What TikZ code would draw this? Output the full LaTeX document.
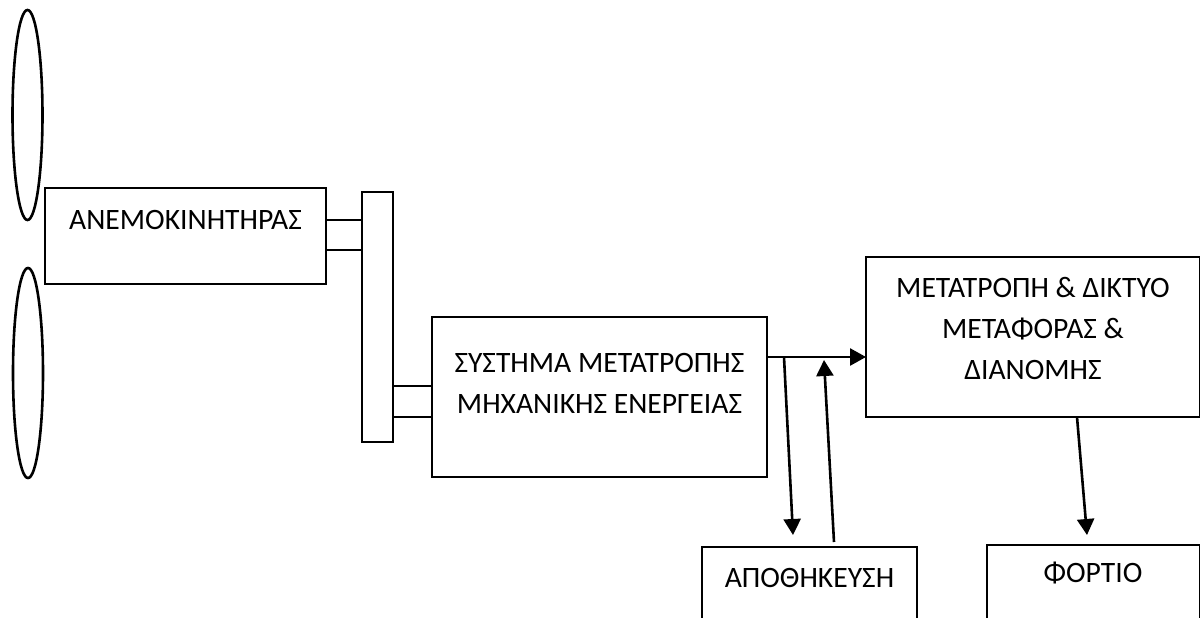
\documentclass[tikz,border=0pt]{standalone}
\usepackage{fontspec}
\setmainfont{Carlito}
\usetikzlibrary{arrows.meta,positioning,calc}

\begin{document}
\begin{tikzpicture}[x=0.5pt,y=-0.5pt,line width=1.3pt,>={Triangle[length=8pt,width=8.5pt]},
  box/.style={draw,line width=1.3pt,outer sep=0pt,inner sep=0pt},
  lbl/.style={align=center,font=\fontsize{14.8}{20.5}\selectfont}]
  \useasboundingbox (0,0) rectangle (1200,617);
  % blades
  \draw (27.5,115) ellipse (7.5pt and 52.5pt);
  \draw (28,373) ellipse (7.5pt and 52.5pt);
  % boxes
  \node[box,minimum width=140.5pt,minimum height=48pt] (an) at (185.5,236) {};
  \node[lbl] (antxt) at (185.5,220) {ΑΝΕΜΟΚΙΝΗΤΗΡΑΣ};
  \node[box,minimum width=15.5pt,minimum height=125pt] (bar) at (377.5,317) {};
  \node[box,minimum width=167.5pt,minimum height=80pt] (sys) at (599.5,397) {};
  \node[lbl] (systxt) at (599.5,383) {ΣΥΣΤΗΜΑ ΜΕΤΑΤΡΟΠΗΣ\\ΜΗΧΑΝΙΚΗΣ ΕΝΕΡΓΕΙΑΣ};
  \node[box,minimum width=167pt,minimum height=80pt] (net) at (1033,337) {};
  \node[lbl] (nettxt) at (1033,328) {ΜΕΤΑΤΡΟΠΗ \& ΔΙΚΤΥΟ\\ΜΕΤΑΦΟΡΑΣ \&\\ΔΙΑΝΟΜΗΣ};
  \node[box,minimum width=107.5pt,minimum height=46.5pt] (sto) at (809.5,593.5) {};
  \node[lbl] (stotxt) at (809.5,578) {ΑΠΟΘΗΚΕΥΣΗ};
  \node[box,minimum width=106.5pt,minimum height=47.5pt] (load) at (1093.5,592.5) {};
  \node[lbl] (loadtxt) at (1093,573) {ΦΟΡΤΙΟ};
  % shafts
  \draw (an.east |- 0,220) -- (bar.west |- 0,220);
  \draw (an.east |- 0,250) -- (bar.west |- 0,250);
  \draw (bar.east |- 0,386) -- (sys.west |- 0,386);
  \draw (bar.east |- 0,417) -- (sys.west |- 0,417);
  % flows
  \coordinate (split) at (784,357);
  \coordinate (tosto) at (793,535);
  \coordinate (fromsto) at (834,542);
  \coordinate (back) at (824,360);
  \coordinate (toload) at (1087,535);
  \draw[->] (sys.east |- 0,357) -- (net.west |- 0,357);
  \draw[->] (split) -- (tosto);
  \draw[->] (fromsto) -- (back);
  \draw[->] (net.south -| 1077,0) -- (toload);
\end{tikzpicture}
\end{document}
